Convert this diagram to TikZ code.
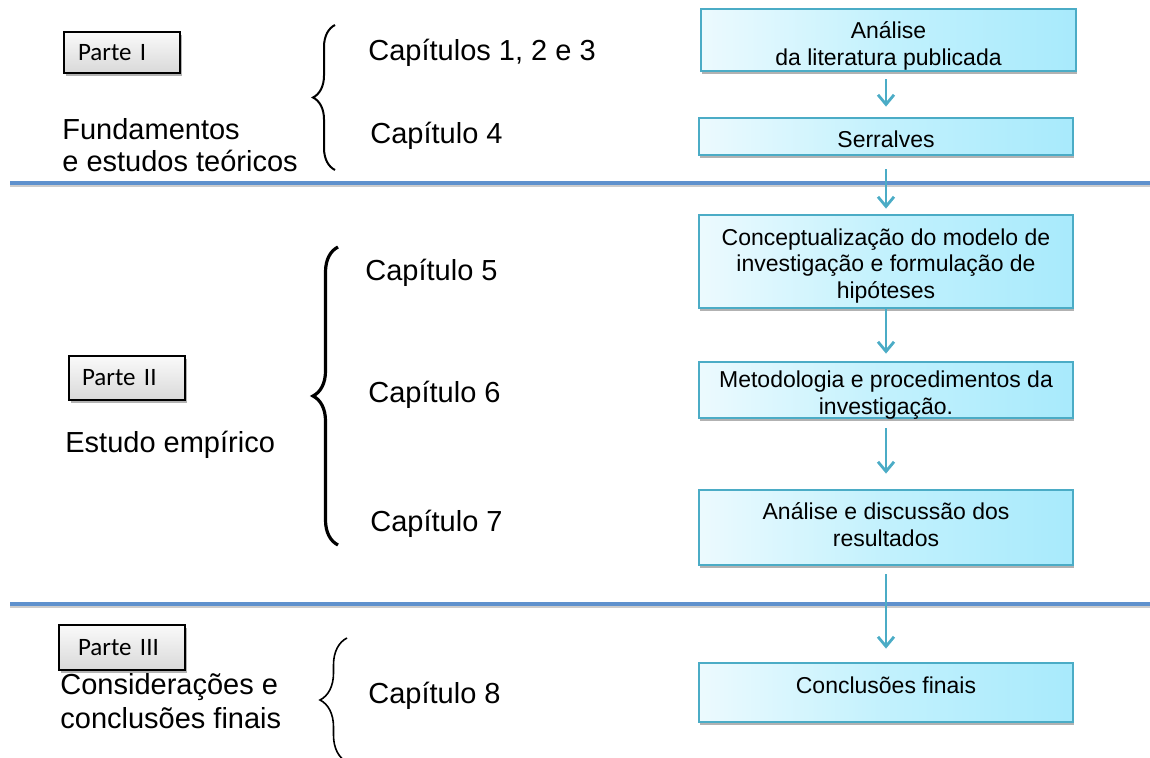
\documentclass[tikz,border=0pt]{standalone}
\usepackage{fontspec}
\setmainfont{Liberation Sans}
\newfontfamily\partfont{Carlito}
\usetikzlibrary{arrows.meta,decorations.pathreplacing,shadows}
\definecolor{accent}{RGB}{75,172,198}
\definecolor{boxL}{RGB}{236,250,254}
\definecolor{boxM}{RGB}{194,241,253}
\definecolor{boxR}{RGB}{168,234,252}
\definecolor{rulecol}{RGB}{95,145,205}
\begin{document}
\begin{tikzpicture}[x=0.5pt,y=-0.5pt,
  flow/.style={draw=accent, line width=1.4pt, left color=boxL, right color=boxR,
    middle color=boxM, minimum width=187pt, inner sep=0pt,
    drop shadow={shadow xshift=0.6pt, shadow yshift=-1.3pt, opacity=0.3, fill=black}},
  flowtext/.style={align=center, inner sep=0pt, font=\fontsize{11.5}{13.4}\selectfont},
  partbox/.style={draw=black, line width=0.9pt, top color=gray!4, bottom color=gray!30,
    align=left, inner ysep=0pt, font=\partfont\fontsize{12.5}{14}\selectfont,
    drop shadow={shadow xshift=1pt, shadow yshift=-1.3pt, opacity=0.3, fill=black}},
  big/.style={font=\fontsize{14.5}{17}\selectfont, inner sep=0pt, anchor=base west},
  curly/.style={decorate, decoration={brace, amplitude=#1}},
  arr/.style={draw=accent, line width=1.4pt, -{Straight Barb[length=4.8pt,width=8pt]}},
  hrule/.style={draw=rulecol, line width=1.7pt}]
\useasboundingbox (0,0) rectangle (1150,758);

% section dividers
\coordinate (r1a) at (10,183);  \coordinate (r1b) at (1150,183);
\coordinate (r2a) at (10,604);  \coordinate (r2b) at (1150,604);
\draw[black!20, line width=1.4pt] ([yshift=-1.3pt]r1a) -- ([yshift=-1.3pt]r1b);
\draw[black!20, line width=1.4pt] ([yshift=-1.3pt]r2a) -- ([yshift=-1.3pt]r2b);
\draw[hrule] (r1a) -- (r1b);
\draw[hrule] (r2a) -- (r2b);

% part labels
\node[partbox, text width=44pt, inner xsep=7pt, minimum height=20.5pt] (p1) at (122,52.5) {Parte I};
\node[partbox, text width=45pt, inner xsep=6.5pt, minimum height=22pt] (p2) at (127,378) {Parte II};
\node[partbox, text width=44pt, inner xsep=9.5pt, minimum height=22.5pt] (p3) at (122,647.5) {Parte III};

% part titles
\node[big] (t1a) at (62,140) {Fundamentos};
\node[big] (t1b) at (62,172) {e estudos teóricos};
\node[big] (t2) at (65,452) {Estudo empírico};
\node[big] (t3a) at (60,694) {Considerações e};
\node[big] (t3b) at (60,728) {conclusões finais};

% braces
\coordinate (c1a) at (335,170); \coordinate (c1b) at (335,25);
\coordinate (c2a) at (338,545); \coordinate (c2b) at (338,247);
\coordinate (c3a) at (347,762); \coordinate (c3b) at (347,638);
\draw[curly=11pt, line width=1pt] (c1a) -- (c1b);
\draw[curly=12.5pt, line width=1.6pt] (c2a) -- (c2b);
\draw[curly=13.5pt, line width=0.8pt] (c3a) -- (c3b);

% chapters
\node[big] (ch1) at (368,61) {Capítulos 1, 2 e 3};
\node[big] (ch4) at (370,144) {Capítulo 4};
\node[big] (ch5) at (365,281) {Capítulo 5};
\node[big] (ch6) at (368,403) {Capítulo 6};
\node[big] (ch7) at (370,531) {Capítulo 7};
\node[big] (ch8) at (368,703) {Capítulo 8};

% flow boxes
\node[flow, minimum width=187.5pt, minimum height=31pt] (b1) at (888.5,40) {};
\node[flow, minimum height=18.5pt] (b2) at (886,136.5) {};
\node[flow, minimum height=46.5pt] (b3) at (886,261.5) {};
\node[flow, minimum height=28pt] (b4) at (886,390) {};
\node[flow, minimum height=37.5pt] (b5) at (886,527.5) {};
\node[flow, minimum height=29.5pt] (b6) at (886,692.5) {};

% box texts
\node[flowtext] (b1t) at ([yshift=-3pt]b1.center) {Análise\\da literatura publicada};
\node[flowtext] (b2t) at ([yshift=-1.5pt]b2.center) {Serralves};
\node[flowtext] (b3t) at ([yshift=-2.25pt]b3.center)
  {Conceptualização do modelo de\\investigação e formulação de\\hipóteses};
\node[flowtext] (b4t) at ([yshift=-2.75pt]b4.center)
  {Metodologia e procedimentos da\\investigação.};
\node[flowtext] (b5t) at ([yshift=1.5pt]b5.center) {Análise e discussão dos\\resultados};
\node[flowtext] (b6t) at ([yshift=3.5pt]b6.center) {Conclusões finais};

% flow arrows
\draw[arr, shorten <=3.5pt, shorten >=5pt] (b1.south -| b2.north) -- (b2.north);
\draw[arr, shorten <=6.5pt, shorten >=2.5pt] (b2.south) -- (b3.north);
\draw[arr, shorten <=0pt, shorten >=3.5pt] (b3.south) -- (b4.north);
\draw[arr, shorten <=4.5pt, shorten >=7.5pt] (b4.south) -- (b5.north);
\draw[arr, shorten <=4pt, shorten >=6.5pt] (b5.south) -- (b6.north);
\end{tikzpicture}
\end{document}
